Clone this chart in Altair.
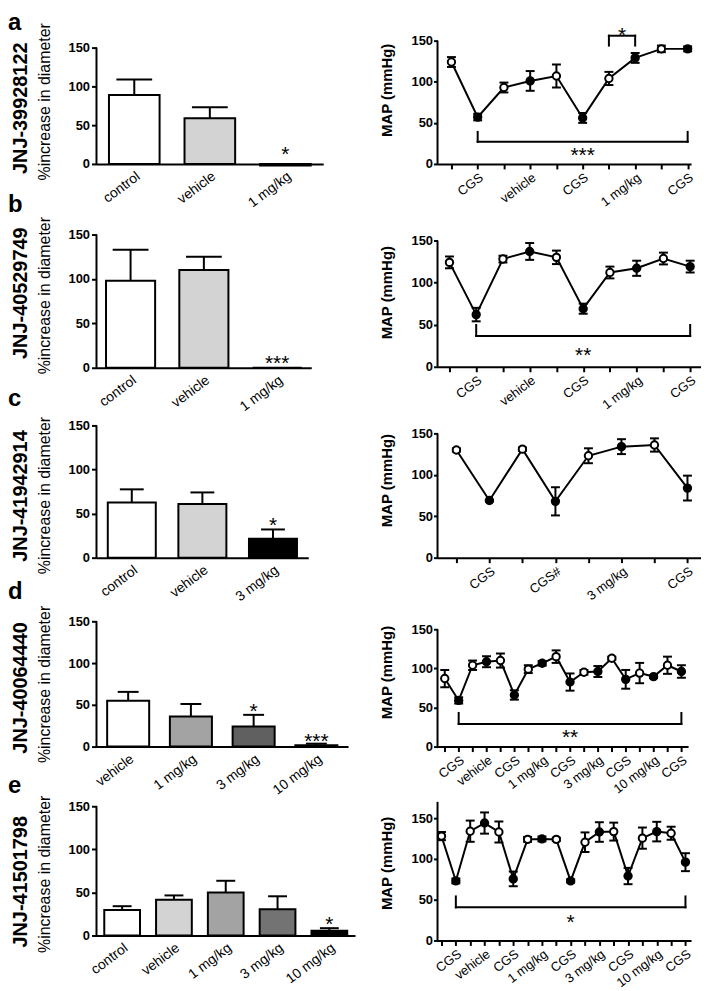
import json
import altair as alt
import pandas as pd

FONT = "Liberation Sans"

# ---------------- row labels ----------------
row_letters = ["a", "b", "c", "d", "e"]
compounds = ["JNJ-39928122", "JNJ-40529749", "JNJ-41942914", "JNJ-40064440", "JNJ-41501798"]

# ---------------- left panels: % increase in diameter (mean + SEM) ----------------
bar_a_cats = ["control", "vehicle", "1 mg/kg"]
bar_a_vals = [89, 59, -2]
bar_a_errs = [20, 14, 0]
bar_a_fill = ["#ffffff", "#d3d3d3", "#111111"]
bar_a_sig_cat = ["1 mg/kg"]
bar_a_sig_txt = ["*"]
bar_a_sig_y = [19]

bar_b_cats = ["control", "vehicle", "1 mg/kg"]
bar_b_vals = [98, 110, 0]
bar_b_errs = [35, 15, 0]
bar_b_fill = ["#ffffff", "#d3d3d3", "#111111"]
bar_b_sig_cat = ["1 mg/kg"]
bar_b_sig_txt = ["***"]
bar_b_sig_y = [11]

bar_c_cats = ["control", "vehicle", "3 mg/kg"]
bar_c_vals = [62.5, 61, 21.5]
bar_c_errs = [15, 13, 10.5]
bar_c_fill = ["#ffffff", "#d3d3d3", "#000000"]
bar_c_sig_cat = ["3 mg/kg"]
bar_c_sig_txt = ["*"]
bar_c_sig_y = [43]

bar_d_cats = ["vehicle", "1 mg/kg", "3 mg/kg", "10 mg/kg"]
bar_d_vals = [55, 36, 24, 1.5]
bar_d_errs = [10.5, 15, 14, 2]
bar_d_fill = ["#ffffff", "#a3a3a3", "#606060", "#000000"]
bar_d_sig_cat = ["3 mg/kg", "10 mg/kg"]
bar_d_sig_txt = ["*", "***"]
bar_d_sig_y = [49, 12]

bar_e_cats = ["control", "vehicle", "1 mg/kg", "3 mg/kg", "10 mg/kg"]
bar_e_vals = [29.5, 41.5, 50, 30.5, 5.5]
bar_e_errs = [4.5, 5, 13.5, 15, 3]
bar_e_fill = ["#ffffff", "#d3d3d3", "#a3a3a3", "#737373", "#000000"]
bar_e_sig_cat = ["10 mg/kg"]
bar_e_sig_txt = ["*"]
bar_e_sig_y = [18.5]

# ---------------- right panels: MAP (mmHg), mean +/- SEM ----------------
map_a_labels = ["", "CGS", "", "vehicle", "", "CGS", "", "1 mg/kg", "", "CGS"]
map_a_vals = [124, 57, 93, 101, 107, 56, 104, 129, 140, 140]
map_a_errs = [6, 4, 6, 12, 14, 6, 8, 6, 4, 3]
map_a_marker = ["open", "filled"] * 5
map_a_br_from = [1, 6]
map_a_br_to = [9, 7]
map_a_br_y = [27, 156]
map_a_br_leg = [39, 144]
map_a_br_txt = ["***", "*"]
map_a_br_ty = [17, 163]

map_b_labels = ["", "CGS", "", "vehicle", "", "CGS", "", "1 mg/kg", "", "CGS"]
map_b_vals = [124, 62, 128, 137, 130, 69, 112, 117, 128.6, 119]
map_b_errs = [7, 8, 4, 10, 8, 6, 7, 9, 7, 7]
map_b_marker = ["open", "filled"] * 5
map_b_br_from = [1]
map_b_br_to = [9]
map_b_br_y = [36.6]
map_b_br_leg = [49.6]
map_b_br_txt = ["**"]
map_b_br_ty = [20]

map_c_labels = ["", "CGS", "", "CGS#", "", "3 mg/kg", "", "CGS"]
map_c_vals = [130, 69, 131, 68, 123, 134, 136, 84]
map_c_errs = [2, 1, 2, 17, 9, 9, 8, 15]
map_c_marker = ["open", "filled"] * 4
map_c_br_from = []
map_c_br_to = []
map_c_br_y = []
map_c_br_leg = []
map_c_br_txt = []
map_c_br_ty = []

map_d_labels = ["", "CGS", "", "vehicle", "", "CGS", "", "1 mg/kg", "", "CGS",
                "", "3 mg/kg", "", "CGS", "", "10 mg/kg", "", "CGS"]
map_d_vals = [87, 59, 104, 108.5, 110, 66, 99, 106.5, 115, 82.5, 95, 96, 113, 86, 94, 89.5, 104, 96]
map_d_errs = [11, 4, 6, 7, 9, 6, 5, 3, 8, 11, 3, 7, 2, 12, 13, 2, 11, 8]
map_d_marker = ["open", "filled"] * 9
map_d_br_from = [1]
map_d_br_to = [17]
map_d_br_y = [29]
map_d_br_leg = [43]
map_d_br_txt = ["**"]
map_d_br_ty = [19]

map_e_labels = ["", "CGS", "", "vehicle", "", "CGS", "", "1 mg/kg", "", "CGS",
                "", "3 mg/kg", "", "CGS", "", "10 mg/kg", "", "CGS"]
map_e_vals = [128, 73, 134, 144, 133, 75.5, 124, 124.5, 124, 73, 120.5, 133, 133.5, 79, 125.5, 133.5, 131.5, 96]
map_e_errs = [5, 3, 13, 13, 13, 9, 3, 3, 2, 2, 12, 12, 11, 10, 13, 12, 8, 11]
map_e_marker = ["open", "filled"] * 9
map_e_br_from = [1]
map_e_br_to = [17]
map_e_br_y = [40.6]
map_e_br_leg = [54]
map_e_br_txt = ["*"]
map_e_br_ty = [29]

# ---------------- layout (pixels) ----------------
left_layout = [
    dict(w=228, h=124, dmax=158.97, pi=0.33, po=0.165, cap=36, ty=61, ly=-11, cy=68),
    dict(w=216, h=165, dmax=184.7, pi=0.33, po=0.13, cap=36, ty=92, ly=8, cy=90),
    dict(w=213, h=151, dmax=170.3, pi=0.32, po=0.16, cap=24, ty=88, ly=-2, cy=89),
    dict(w=253, h=150, dmax=178.6, pi=0.33, po=0.17, cap=21, ty=87, ly=2, cy=91),
    dict(w=260, h=150, dmax=173.1, pi=0.31, po=0.15, cap=19, ty=88, ly=7, cy=96),
]
right_layout = [
    dict(w=255, h=124, dmax=150.0, d0=-0.53, d1=9.13, ty=49.5, ytop=150),
    dict(w=265, h=164, dmax=193.7, d0=-0.446, d1=9.405, ty=89, ytop=150),
    dict(w=265, h=151, dmax=181.2, d0=-0.572, d1=7.41, ty=73, ytop=150),
    dict(w=252, h=150, dmax=190.7, d0=-0.52, d1=17.48, ty=75, ytop=150),
    dict(w=255, h=155, dmax=189.0, d0=-0.277, d1=17.39, ty=77, ytop=170),
]


def bar_panel(cats, vals, errs, fills, sig_cat, sig_txt, sig_y, letter, compound, lay):
    df = pd.DataFrame({"cat": cats, "val": vals, "err": errs, "fill": fills})
    df["top"] = df["val"] + df["err"]
    xs = alt.Scale(domain=cats, paddingInner=lay["pi"], paddingOuter=lay["po"])
    ys = alt.Scale(domain=[0, lay["dmax"]], nice=False, zero=False)
    xax = alt.Axis(title=None, labelAngle=-37, labelAlign="right", labelBaseline="top",
                   ticks=False, domainColor="black", domainWidth=2, labelFont=FONT,
                   labelFontSize=14, labelColor="black", labelPadding=5,
                   labelOverlap=False, labelLimit=300, grid=False)
    yax = alt.Axis(title="%increase in diameter", values=[0, 50, 100, 150], domain=False,
                   grid=False, tickColor="black", tickWidth=2, tickSize=5, labelFont=FONT,
                   labelFontSize=13, labelFontWeight="bold", labelColor="black",
                   labelPadding=2, titleFont=FONT, titleFontSize=16, titleFontWeight="normal",
                   titleColor="black", titleAngle=270, titleAlign="center",
                   titleBaseline="bottom", titleX=-44, titleY=lay["ty"])

    def X(f="cat"):
        return alt.X(f"{f}:N", scale=xs, axis=xax)

    def Y(f):
        return alt.Y(f"{f}:Q", scale=ys, axis=yax)

    bars = alt.Chart(df).mark_bar(stroke="black", strokeWidth=2, opacity=1).encode(
        x=X(), y=Y("val"), y2=alt.datum(0),
        fill=alt.Fill("fill:N", scale=None))
    dfe = df[df["err"] > 0]
    err = alt.Chart(dfe).mark_rule(color="black", strokeWidth=2).encode(
        x=X(), y=Y("val"), y2="top:Q")
    cap = alt.Chart(dfe).mark_tick(color="black", thickness=2, size=lay["cap"],
                                   orient="horizontal", opacity=1).encode(x=X(), y=Y("top"))
    dfs = pd.DataFrame({"cat": sig_cat, "txt": sig_txt, "y": sig_y})
    stars = alt.Chart(dfs).mark_text(font=FONT, fontSize=21, fill="black",
                                     baseline="alphabetic", dy=12).encode(
        x=X(), y=Y("y"), text="txt:N")
    axl = alt.Chart(pd.DataFrame({"y0": [0], "y1": [150]})).mark_rule(
        color="black", strokeWidth=2).encode(x=alt.value(0), y=Y("y0"), y2="y1:Q")
    let = alt.Chart(pd.DataFrame({"t": [letter]})).mark_text(
        font=FONT, fontSize=24, fontWeight="bold", align="left", baseline="alphabetic",
        fill="black").encode(text="t:N", x=alt.value(-89), y=alt.value(lay["ly"]))
    comp = alt.Chart(pd.DataFrame({"t": [compound]})).mark_text(
        font=FONT, fontSize=20, fontWeight="bold", angle=270, align="center", baseline="top",
        fill="black").encode(text="t:N", x=alt.value(-86), y=alt.value(lay["cy"]))
    return alt.layer(bars, err, cap, stars, axl, let, comp).properties(
        width=lay["w"], height=lay["h"])


def map_panel(labels, vals, errs, marker, bfrom, bto, by, bleg, btxt, bty, lay):
    n = len(vals)
    df = pd.DataFrame({"i": list(range(n)), "v": vals, "e": errs, "m": marker})
    df["lo"] = df["v"] - df["e"]
    df["hi"] = df["v"] + df["e"]
    xs = alt.Scale(domain=[lay["d0"], lay["d1"]], nice=False, zero=False)
    ys = alt.Scale(domain=[0, lay["dmax"]], nice=False, zero=False)
    xax = alt.Axis(title=None, values=list(range(n)),
                   labelExpr=json.dumps(labels) + "[datum.value]",
                   labelAngle=-37, labelAlign="right", labelBaseline="top",
                   tickColor="black", tickWidth=2, tickSize=5, domainColor="black",
                   domainWidth=2, labelFont=FONT, labelFontSize=13, labelColor="black",
                   labelPadding=2, labelOverlap=False, labelFlush=False, labelBound=False,
                   labelLimit=300, grid=False)
    yax = alt.Axis(title="MAP (mmHg)", values=[0, 50, 100, 150], domain=False, grid=False,
                   tickColor="black", tickWidth=2, tickSize=4, labelFont=FONT,
                   labelFontSize=13, labelFontWeight="bold", labelColor="black",
                   labelPadding=1, titleFont=FONT, titleFontSize=15, titleFontWeight="bold",
                   titleColor="black", titleAngle=270, titleAlign="center",
                   titleBaseline="bottom", titleX=-43, titleY=lay["ty"])

    def X(f="i"):
        return alt.X(f"{f}:Q", scale=xs, axis=xax)

    def Y(f):
        return alt.Y(f"{f}:Q", scale=ys, axis=yax)

    line = alt.Chart(df).mark_line(color="black", strokeWidth=2).encode(
        x=X(), y=Y("v"))
    errr = alt.Chart(df).mark_rule(color="black", strokeWidth=2).encode(
        x=X(), y=Y("lo"), y2="hi:Q")
    caps = alt.Chart(df).transform_fold(["lo", "hi"], as_=["k", "cv"]).mark_tick(
        color="black", thickness=2, size=9, orient="horizontal", opacity=1).encode(
        x=X(), y=Y("cv"))
    pts = alt.Chart(df).mark_point(shape="circle", filled=True, size=55, stroke="black",
                                   strokeWidth=2, opacity=1).encode(
        x=X(), y=Y("v"),
        fill=alt.Fill("m:N", scale=alt.Scale(domain=["open", "filled"],
                                             range=["white", "black"]), legend=None))
    layers = [line, errr, caps, pts]
    if len(bfrom):
        dfb = pd.DataFrame({"x1": bfrom, "x2": bto, "y": by, "leg": bleg,
                            "txt": btxt, "ty": bty})
        hbar = alt.Chart(dfb).mark_rule(color="black", strokeWidth=2, strokeCap="square").encode(
            x=X("x1"), x2="x2:Q", y=Y("y"))
        legs = alt.Chart(dfb).transform_fold(["x1", "x2"], as_=["k", "xx"]).mark_rule(
            color="black", strokeWidth=2, strokeCap="square").encode(
            x=X("xx"), y=Y("y"), y2="leg:Q")
        btx = alt.Chart(dfb).transform_calculate(xm="(datum.x1 + datum.x2) / 2").mark_text(
            font=FONT, fontSize=21, fill="black", baseline="alphabetic", dy=12).encode(
            x=X("xm"), y=Y("ty"), text="txt:N")
        layers += [hbar, legs, btx]
    axl = alt.Chart(pd.DataFrame({"y0": [0], "y1": [lay["ytop"]]})).mark_rule(
        color="black", strokeWidth=2).encode(x=alt.value(0), y=Y("y0"), y2="y1:Q")
    layers.append(axl)
    return alt.layer(*layers).properties(width=lay["w"], height=lay["h"])


bar_specs = [
    (bar_a_cats, bar_a_vals, bar_a_errs, bar_a_fill, bar_a_sig_cat, bar_a_sig_txt, bar_a_sig_y),
    (bar_b_cats, bar_b_vals, bar_b_errs, bar_b_fill, bar_b_sig_cat, bar_b_sig_txt, bar_b_sig_y),
    (bar_c_cats, bar_c_vals, bar_c_errs, bar_c_fill, bar_c_sig_cat, bar_c_sig_txt, bar_c_sig_y),
    (bar_d_cats, bar_d_vals, bar_d_errs, bar_d_fill, bar_d_sig_cat, bar_d_sig_txt, bar_d_sig_y),
    (bar_e_cats, bar_e_vals, bar_e_errs, bar_e_fill, bar_e_sig_cat, bar_e_sig_txt, bar_e_sig_y),
]
map_specs = [
    (map_a_labels, map_a_vals, map_a_errs, map_a_marker, map_a_br_from, map_a_br_to,
     map_a_br_y, map_a_br_leg, map_a_br_txt, map_a_br_ty),
    (map_b_labels, map_b_vals, map_b_errs, map_b_marker, map_b_br_from, map_b_br_to,
     map_b_br_y, map_b_br_leg, map_b_br_txt, map_b_br_ty),
    (map_c_labels, map_c_vals, map_c_errs, map_c_marker, map_c_br_from, map_c_br_to,
     map_c_br_y, map_c_br_leg, map_c_br_txt, map_c_br_ty),
    (map_d_labels, map_d_vals, map_d_errs, map_d_marker, map_d_br_from, map_d_br_to,
     map_d_br_y, map_d_br_leg, map_d_br_txt, map_d_br_ty),
    (map_e_labels, map_e_vals, map_e_errs, map_e_marker, map_e_br_from, map_e_br_to,
     map_e_br_y, map_e_br_leg, map_e_br_txt, map_e_br_ty),
]

panels = []
for r in range(5):
    panels.append(bar_panel(*bar_specs[r], row_letters[r], compounds[r], left_layout[r]))
    panels.append(map_panel(*map_specs[r], right_layout[r]))

chart = alt.concat(
    *panels, columns=2, spacing={"row": 40, "column": 83}, bounds="flush", align="each",
    padding=0,
).configure(font=FONT, background="white").configure_view(stroke=None)

chart.save("out.html", embed_options={"renderer": "svg", "actions": False})
